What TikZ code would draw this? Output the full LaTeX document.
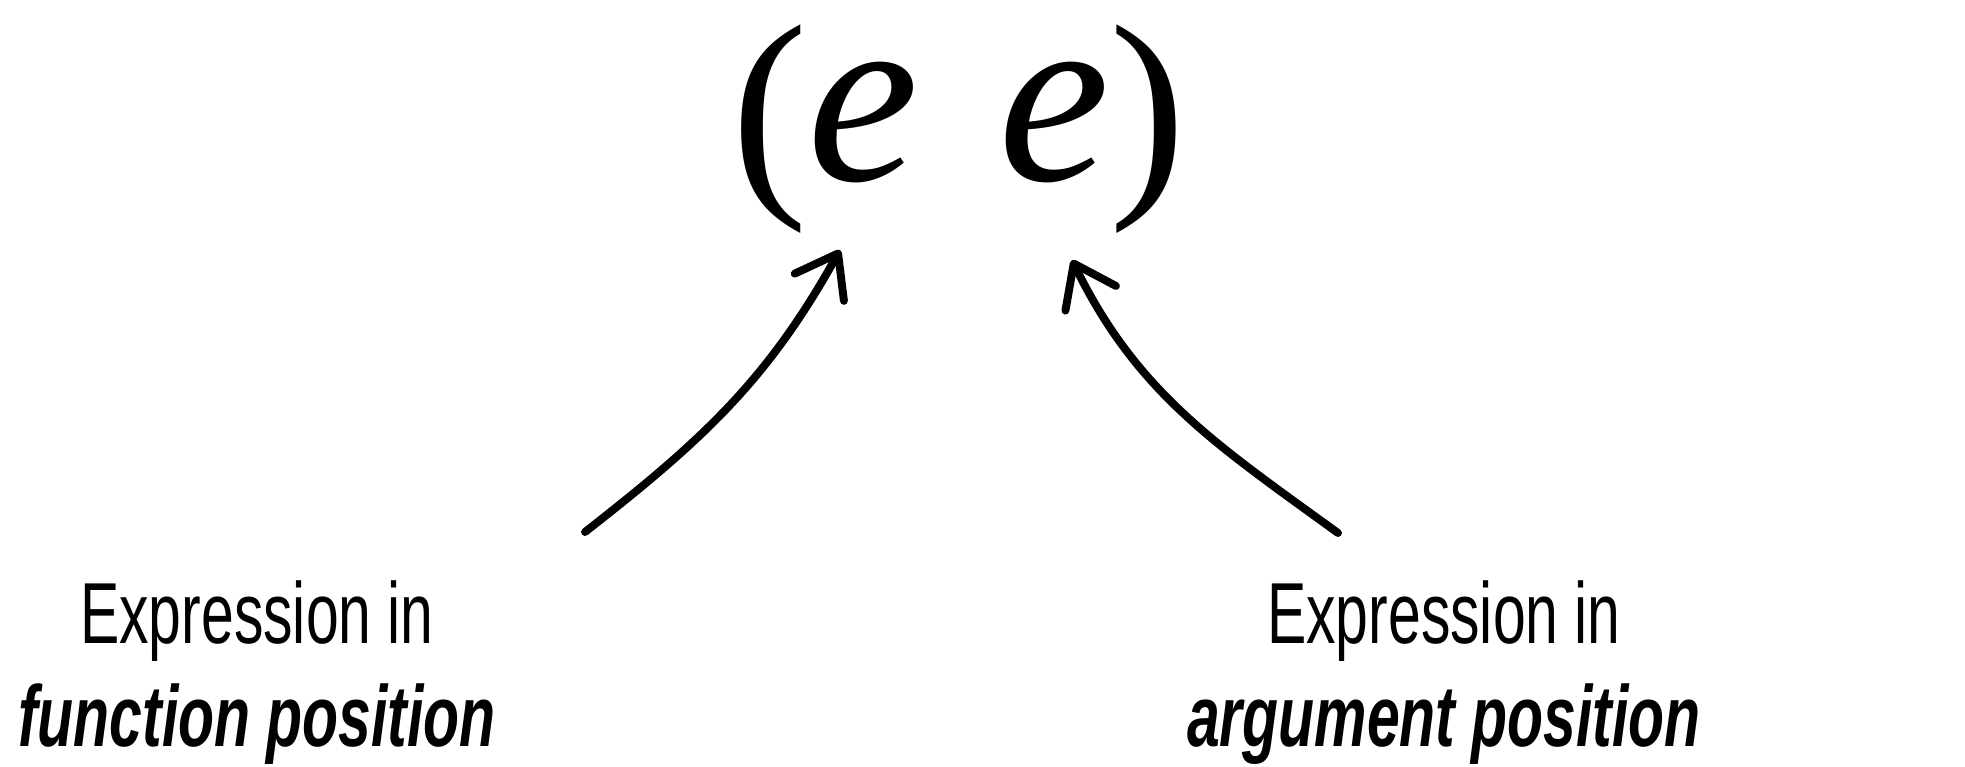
\documentclass[tikz,border=0pt]{standalone}
\usepackage{fontspec}
\usetikzlibrary{arrows.meta,positioning}
\newfontfamily\termfont{Liberation Serif}
\newfontfamily\labelfont[FakeStretch=0.68]{Liberation Sans}
\definecolor{ink}{HTML}{000000}
\tikzset{
  term/.style={font=\termfont\fontsize{131}{136}\selectfont,text=ink,
    inner sep=0pt,anchor=base},
  posnote/.style={font=\labelfont\fontsize{49.3}{58.6}\selectfont,text=ink,
    align=center,inner sep=0pt,anchor=base},
  chalk/.style={-{Straight Barb[round,length=22pt,width=32pt]},
    line width=4.5pt,line cap=round,draw=ink}
}
\begin{document}
\begin{tikzpicture}
\useasboundingbox (0,0) rectangle (39.3,15.32);
\node[term] (lpar) at (15.40,11.62) {(};
\node[term,font=\termfont\fontsize{143}{148}\selectfont] (fun) at (17.26,11.70) {\itshape e};
\node[term,font=\termfont\fontsize{143}{148}\selectfont] (arg) at (21.08,11.70) {\itshape e};
\node[term] (rpar) at (22.96,11.62) {)};

\node[posnote] (funnote) at (5.14,0.40) {Expression in\\\textbf{\textit{function position}}};
\node[posnote] (argnote) at (28.88,0.40) {Expression in\\\textbf{\textit{argument position}}};

\coordinate (funfoot) at (11.70,4.68);
\coordinate (argfoot) at (26.76,4.66);
\draw[chalk] (funfoot) to[out=38,in=241] ([shift={(-0.46,-1.38)}]fun.base);
\draw[chalk] (argfoot) to[out=144,in=296] ([shift={(0.36,-1.58)}]arg.base);
\end{tikzpicture}
\end{document}
